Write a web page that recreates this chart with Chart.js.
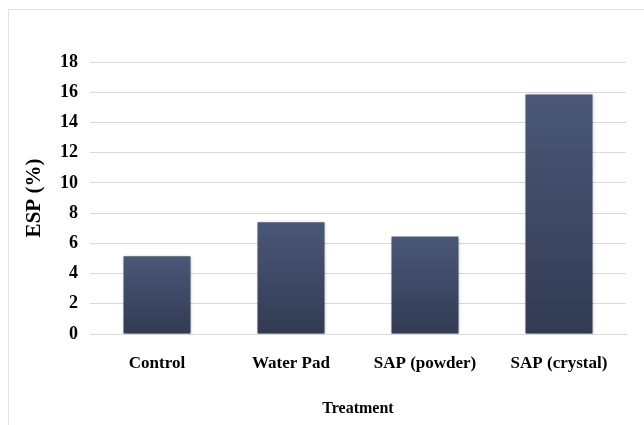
<!DOCTYPE html>
<html>
<head>
<meta charset="utf-8">
<script src="https://cdn.jsdelivr.net/npm/chart.js@4"></script>
<style>
html,body{margin:0;padding:0;background:#fff;}
#wrap{position:absolute;left:0;top:0;width:644px;height:425px;}
#frame{position:absolute;left:8px;top:9px;width:636px;height:416px;border-top:1px solid #e3e3e3;border-left:1px solid #e3e3e3;box-sizing:border-box;}
canvas{position:absolute;left:0;top:0;}
</style>
</head>
<body>
<div id="wrap">
<div id="frame"></div>
<canvas id="c" width="644" height="425"></canvas>
</div>
<script>
const categories = ["Control", "Water Pad", "SAP (powder)", "SAP (crystal)"];
const espValues = [5.15, 7.4, 6.45, 15.85];
const yTicks = [0, 2, 4, 6, 8, 10, 12, 14, 16, 18];
const yTitle = "ESP (%)";
const xTitle = "Treatment";

const FONT = "'Liberation Serif', 'Times New Roman', serif";

function barGradient(ctx) {
  const chart = ctx.chart;
  const ys = chart.scales && chart.scales.y;
  if (!ys || ctx.parsed === undefined) return '#3f4a66';
  const top = ys.getPixelForValue(ctx.parsed.y);
  const bottom = ys.getPixelForValue(0);
  if (!isFinite(top) || !isFinite(bottom)) return '#3f4a66';
  const g = chart.ctx.createLinearGradient(0, top, 0, bottom);
  g.addColorStop(0, '#4a5777');
  g.addColorStop(1, '#323b53');
  return g;
}

const shadowPlugin = {
  id: 'barShadow',
  beforeDatasetDraw(chart) {
    const c = chart.ctx;
    c.save();
    c.shadowColor = 'rgba(0,0,0,0.35)';
    c.shadowBlur = 3;
    c.shadowOffsetX = 0;
    c.shadowOffsetY = 1;
  },
  afterDatasetDraw(chart) {
    chart.ctx.restore();
  }
};

new Chart(document.getElementById('c'), {
  type: 'bar',
  data: {
    labels: categories,
    datasets: [{
      data: espValues,
      backgroundColor: barGradient,
      borderWidth: 0,
      barPercentage: 0.5,
      categoryPercentage: 1.0
    }]
  },
  plugins: [shadowPlugin],
  options: {
    responsive: false,
    animation: false,
    devicePixelRatio: 1,
    layout: { padding: { left: 22, right: 18, top: 62, bottom: 7 } },
    plugins: { legend: { display: false }, tooltip: { enabled: false } },
    scales: {
      x: {
        grid: { display: false, drawTicks: false },
        border: { display: true, color: '#d9d9d9', width: 1 },
        ticks: { color: '#000', font: { family: FONT, size: 17, weight: 'bold' }, padding: 19, maxRotation: 0 },
        title: { display: true, text: xTitle, color: '#000', font: { family: FONT, size: 16, weight: 'bold' }, padding: { top: 22, bottom: 0 } },
        afterFit(scale) { scale.height = 84; }
      },
      y: {
        min: 0, max: 18,
        afterBuildTicks(scale) { scale.ticks = yTicks.map(v => ({ value: v })); },
        grid: { color: '#d9d9d9', lineWidth: 1, drawTicks: false },
        border: { display: false },
        ticks: { color: '#000', font: { family: FONT, size: 18, weight: 'bold' }, padding: 12 },
        title: { display: true, text: yTitle, color: '#000', font: { family: FONT, size: 21, weight: 'bold' }, padding: { top: 0, bottom: 10 } },
        afterFit(scale) { scale.width = 68; }
      }
    }
  }
});
</script>
</body>
</html>
